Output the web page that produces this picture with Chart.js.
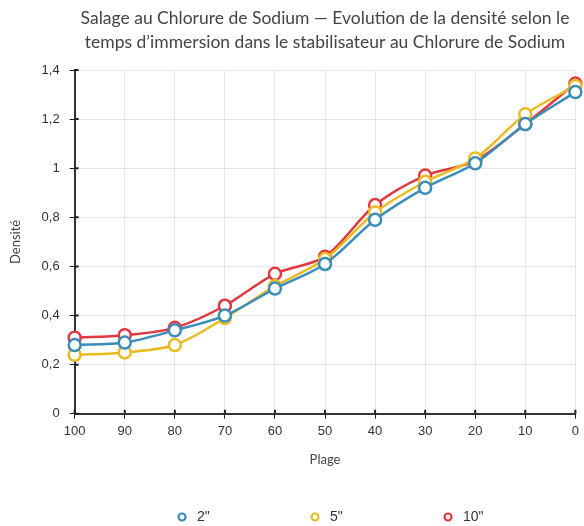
<!DOCTYPE html>
<html>
<head>
<meta charset="utf-8">
<script src="https://cdn.jsdelivr.net/npm/chart.js@4"></script>
<style>
  html, body { margin: 0; padding: 0; background: #fff; }
  #wrap { width: 584px; height: 526px; }
</style>
</head>
<body>
<div id="wrap"><canvas id="densite-chart"></canvas></div>
<script>
const plages = ['100', '90', '80', '70', '60', '50', '40', '30', '20', '10', '0'];
const dens2 = [0.28, 0.29, 0.34, 0.40, 0.51, 0.61, 0.79, 0.92, 1.02, 1.18, 1.31];
const dens5 = [0.24, 0.25, 0.28, 0.39, 0.52, 0.63, 0.82, 0.945, 1.04, 1.22, 1.335];
const dens10 = [0.31, 0.32, 0.35, 0.44, 0.57, 0.64, 0.85, 0.97, 1.03, 1.18, 1.345];
const titleLines = [
    'Salage au Chlorure de Sodium \u2014 Evolution de la densité selon le',
    'temps d\u2019immersion dans le stabilisateur au Chlorure de Sodium'
];

const font = "'Liberation Sans', Arial, sans-serif";
const titleFont = "Lato, 'Noto Sans', sans-serif";

function serie(label, data, color) {
    return {
        label: label,
        data: data,
        borderColor: color,
        backgroundColor: '#fff',
        borderWidth: 2.5,
        pointRadius: 6,
        pointHoverRadius: 6,
        pointBorderWidth: 2.5,
        pointBackgroundColor: '#fff',
        pointBorderColor: color,
        tension: 0.3
    };
}

// short tick marks on the inner side of both axes
const innerTicks = {
    id: 'innerTicks',
    beforeDatasetsDraw(chart) {
        const ctx = chart.ctx;
        const area = chart.chartArea;
        const xs = chart.scales.x, ys = chart.scales.y;
        ctx.save();
        ctx.strokeStyle = '#222';
        ctx.lineWidth = 2;
        ctx.beginPath();
        xs.ticks.forEach((t, i) => {
            const px = xs.getPixelForTick(i);
            ctx.moveTo(px, area.bottom);
            ctx.lineTo(px, area.bottom - 4);
        });
        ys.ticks.forEach((t, i) => {
            const py = ys.getPixelForTick(i);
            ctx.moveTo(area.left, py);
            ctx.lineTo(area.left + 4, py);
        });
        ctx.stroke();
        ctx.restore();
    }
};

// bottom legend with wide gaps under the plot area
const spacedLegend = {
    id: 'spacedLegend',
    afterDraw(chart) {
        const ctx = chart.ctx;
        const area = chart.chartArea;
        const step = 133;
        const mid = (area.left + area.right) / 2 - 10;
        const y = chart.height - 9;
        ctx.save();
        ctx.font = '14px ' + font;
        ctx.textBaseline = 'middle';
        ctx.textAlign = 'left';
        chart.data.datasets.forEach((ds, i) => {
            const x = mid + (i - 1) * step;
            ctx.beginPath();
            ctx.arc(x, y, 3.5, 0, Math.PI * 2);
            ctx.fillStyle = '#fff';
            ctx.fill();
            ctx.lineWidth = 2.2;
            ctx.strokeStyle = ds.borderColor;
            ctx.stroke();
            ctx.fillStyle = '#333';
            ctx.fillText(ds.label, x + 15, y);
        });
        ctx.restore();
    }
};

const chart = new Chart(document.getElementById('densite-chart').getContext('2d'), {
    type: 'line',
    data: {
        labels: plages,
        datasets: [
            serie('2"', dens2, '#3a8dba'),
            serie('5"', dens5, '#e9bb1f'),
            serie('10"', dens10, '#e2383f')
        ]
    },
    options: {
        responsive: true,
        maintainAspectRatio: false,
        animation: false,
        layout: { padding: { left: 4, right: 6, top: 2, bottom: 58 } },
        plugins: {
            title: {
                display: true,
                fullSize: false,
                text: titleLines,
                color: '#444',
                font: { family: titleFont, size: 17.5, weight: 'normal', lineHeight: 1.4 },
                padding: { top: 4, bottom: 15 }
            },
            legend: { display: false },
            tooltip: { enabled: false }
        },
        scales: {
            x: {
                offset: false,
                title: {
                    display: true,
                    text: 'Plage',
                    color: '#444',
                    font: { family: titleFont, size: 13 },
                    padding: { top: 8, bottom: 0 }
                },
                grid: {
                    color: '#e6e6e6',
                    tickColor: '#222',
                    tickLength: 5
                },
                border: { color: '#333', width: 2 },
                ticks: { color: '#333', font: { family: font, size: 13 }, padding: 5, maxRotation: 0 }
            },
            y: {
                min: 0,
                max: 1.4,
                title: {
                    display: true,
                    text: 'Densité',
                    color: '#444',
                    font: { family: titleFont, size: 13 },
                    padding: { bottom: 8 }
                },
                grid: {
                    color: '#e6e6e6',
                    tickColor: '#222',
                    tickLength: 5
                },
                border: { color: '#333', width: 2 },
                ticks: {
                    stepSize: 0.2,
                    color: '#333',
                    font: { family: font, size: 13 },
                    padding: 10,
                    callback: v => String(Math.round(v * 10) / 10).replace('.', ',')
                }
            }
        }
    },
    plugins: [innerTicks, spacedLegend]
});
</script>
</body>
</html>
